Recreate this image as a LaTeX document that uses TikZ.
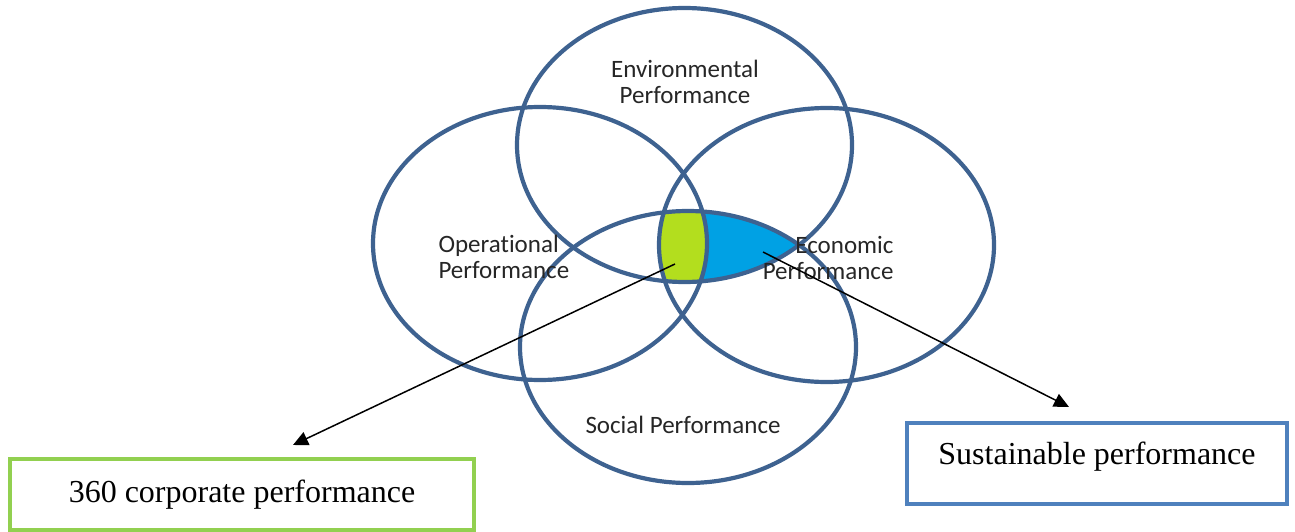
\documentclass[tikz,border=0pt]{standalone}
\usepackage{fontspec}
\setmainfont{Liberation Serif}
\newfontfamily\calibri[Ligatures=NoCommon]{Carlito}
\usepackage{tikz}
\usetikzlibrary{positioning, arrows, arrows.meta}

\definecolor{ringblue}{HTML}{3E6290}
\definecolor{limefill}{HTML}{B3DE1E}
\definecolor{skyfill}{HTML}{00A1E4}
\definecolor{boxgreen}{HTML}{92D050}
\definecolor{boxblue}{HTML}{4F81BD}

\begin{document}
\begin{tikzpicture}[x=1pt,y=-1pt,
  ring/.style={draw=ringblue,line width=4.2pt},
  lbl/.style={font=\calibri\fontsize{25}{26}\selectfont,text=black!85},
  pointer/.style={-{Triangle[length=15pt,width=14pt]},line width=1.5pt},
  resultbox/.style={draw,line width=4pt,font=\fontsize{32}{36}\selectfont}]
\useasboundingbox (0,0) rectangle (1295,532);

% shaded overlaps
\begin{scope}
  \clip (684.5,145) ellipse (167.5pt and 137pt);
  \clip (688,347) ellipse (168pt and 136pt);
  \fill[skyfill] (826.5,245) ellipse (167.5pt and 137pt);
  \clip (826.5,245) ellipse (167.5pt and 137pt);
  \fill[limefill] (540,243.5) ellipse (167pt and 136.5pt);
\end{scope}

% the four rings
\draw[ring] (684.5,145) ellipse (167.5pt and 137pt);
\draw[ring] (540,243.5) ellipse (167pt and 136.5pt);
\draw[ring] (826.5,245) ellipse (167.5pt and 137pt);
\draw[ring] (688,347) ellipse (168pt and 136pt);

% ring labels
\node[lbl,align=center] (envir) at (685,82) {Environmental\\Performance};
\node[lbl,align=left,anchor=west] (oper) at (435,257) {Operational\\Performance};
\node[lbl,align=right,anchor=east] (econ) at (897,258) {Economic\\Performance};
\node[lbl] (social) at (683,425) {Social Performance};

% result boxes
\node[resultbox,draw=boxgreen,minimum width=464pt,minimum height=71pt] (corp) at (242,494.5) {360 corporate performance};
\node[resultbox,draw=boxblue,minimum width=380pt,minimum height=81pt,text height=22pt,text depth=20pt] (sust) at (1097,463.5) {Sustainable performance};

% pointers
\coordinate (greenpt) at (675,264);
\coordinate (bluept) at (763,252);
\coordinate (corptip) at (293,445);
\coordinate (susttip) at (1069,407);
\draw[pointer] (greenpt) -- (corptip);
\draw[pointer] (bluept) -- (susttip);

\end{tikzpicture}
\end{document}
